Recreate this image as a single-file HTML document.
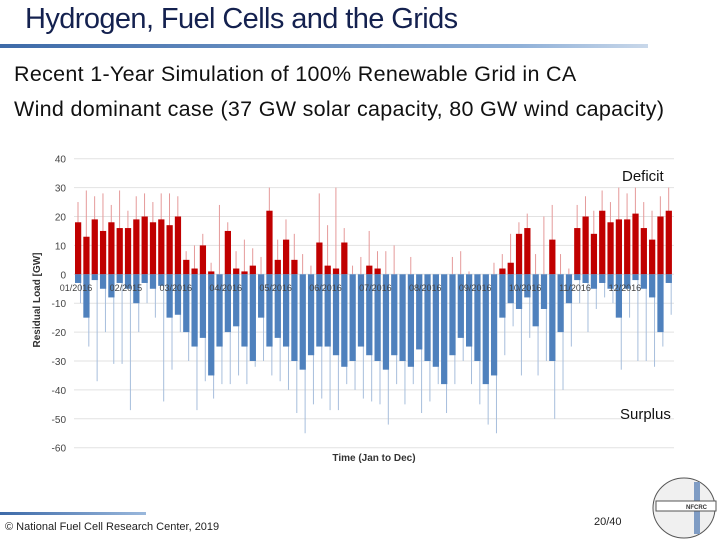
<!DOCTYPE html>
<html><head><meta charset="utf-8"><style>
body{margin:0;width:720px;height:540px;background:#fff;position:relative;overflow:hidden;font-family:"Liberation Sans",sans-serif}
.abs{position:absolute;white-space:nowrap}
</style></head><body>
<div class="abs" style="left:25px;top:3px;font-size:29px;color:#14214f;letter-spacing:-0.6px">Hydrogen, Fuel Cells and the Grids</div>
<div class="abs" style="left:0;top:44px;width:648px;height:4px;background:linear-gradient(90deg,#3d6aa8,#8fb0d8 80%,#c9d8ea)"></div>
<div class="abs" style="left:14px;top:62px;font-size:21.5px;color:#111;letter-spacing:0.3px">Recent 1-Year Simulation of 100% Renewable Grid in CA</div>
<div class="abs" style="left:14px;top:97px;font-size:21.5px;color:#111;letter-spacing:0.3px">Wind dominant case (37 GW solar capacity, 80 GW wind capacity)</div>
<svg class="abs" style="left:0;top:0" width="720" height="540">
<g id="grid"></g><g id="bars"></g><g id="labels"></g>
<text x="40" y="300" transform="rotate(-90 40 300)" text-anchor="middle" font-size="10" font-weight="bold" fill="#333">Residual Load [GW]</text>
<text x="374" y="461" text-anchor="middle" font-size="10" font-weight="bold" fill="#333">Time (Jan to Dec)</text>
<text x="622" y="181" font-size="15" fill="#111">Deficit</text>
<text x="620" y="419" font-size="15" fill="#111">Surplus</text>
</svg>
<div class="abs" style="left:0;top:512px;width:146px;height:3px;background:linear-gradient(90deg,#3d6aa8,#9ab8dc)"></div>
<div class="abs" style="left:5px;top:521px;font-size:11px;color:#222">© National Fuel Cell Research Center, 2019</div>
<div class="abs" style="left:594px;top:516px;font-size:11px;color:#222">20/40</div>
<svg class="abs" style="left:650px;top:476px" width="68" height="64">
<ellipse cx="34" cy="32" rx="31" ry="30" fill="#f0f0f0" stroke="#555"/>
<rect x="44" y="6" width="6" height="52" fill="#7f9cc4"/>
<rect x="6" y="25" width="60" height="10" fill="#fff" stroke="#555"/>
<text x="36" y="33" font-size="6" font-weight="bold" fill="#333">NFCRC</text>
</svg>
<script>
const yTicks=[40,30,20,10,0,-10,-20,-30,-40,-50,-60];
const months=["01/2016","02/2015","03/2016","04/2016","05/2016","06/2016","07/2016","08/2016","09/2016","10/2016","11/2016","12/2016"];
const deficit=[18,13,19,15,18,16,16,19,20,18,19,17,20,5,2,10,1,0,15,2,1,3,0,22,5,12,5,0,0,11,3,2,11,0,0,3,2,0,0,0,0,0,0,0,0,0,0,0,0,0,0,2,4,14,16,0,0,12,0,0,16,20,14,22,18,19,19,21,16,12,20,22];
const deficitPeak=[25,29,27,28,24,29,22,27,28,25,28,28,27,8,10,14,4,24,18,8,12,9,6,30,12,19,14,7,3,28,17,30,16,3,6,15,8,8,10,0,6,0,0,0,0,6,8,1,0,0,4,7,14,18,21,7,20,24,7,2,24,27,22,29,25,30,28,30,25,22,27,30];
const surplus=[-3,-15,-2,-5,-8,-3,-5,-10,-3,-5,-4,-15,-14,-20,-25,-22,-35,-25,-20,-18,-25,-30,-15,-25,-22,-25,-30,-33,-28,-25,-25,-28,-32,-30,-25,-28,-30,-33,-28,-30,-32,-26,-30,-32,-38,-28,-22,-25,-30,-38,-35,-15,-10,-12,-8,-18,-12,-30,-20,-10,-2,-3,-5,-3,-5,-15,-5,-2,-5,-8,-20,-3];
const surplusPeak=[-10,-25,-37,-20,-31,-31,-47,-20,-10,-15,-44,-33,-20,-30,-47,-37,-43,-38,-38,-35,-38,-32,-30,-35,-37,-40,-48,-55,-45,-43,-47,-47,-38,-40,-43,-44,-45,-52,-38,-45,-38,-48,-44,-38,-48,-38,-30,-38,-45,-52,-55,-28,-18,-35,-22,-35,-30,-50,-40,-25,-10,-20,-12,-8,-10,-33,-15,-30,-30,-32,-25,-14];
const X0=75,X1=674,Y0=274.3,PX=2.89;
const yS=v=>Y0-v*PX;
const xS=i=>X0+i*(X1-X0)/deficit.length;
const ns="http://www.w3.org/2000/svg";
function mk(t,a,p){const e=document.createElementNS(ns,t);for(const k in a)e.setAttribute(k,a[k]);p.appendChild(e);return e;}
const G=document.getElementById('grid'),B=document.getElementById('bars'),L=document.getElementById('labels');
yTicks.forEach(v=>{
 const l=mk('line',{x1:74,x2:674,y1:yS(v),y2:yS(v),stroke:'#e2e2e2','stroke-width':1},G);
 
 
 const t=mk('text',{x:66,y:yS(v)+4,'text-anchor':'end','font-size':10,fill:'#444'},L);
 t.textContent=v;
 
 
});
const bw=(X1-X0)/deficit.length;
for(let i=0;i<deficit.length;i++){
 const x=xS(i);
 const pk=mk('rect',{x:x+bw*0.3,y:yS(deficitPeak[i]),width:1,height:Math.max(0,deficitPeak[i]*PX),fill:'#e59a9a'},B);
 
 
 const d=mk('rect',{x:x,y:yS(deficit[i]),width:bw*0.75,height:Math.max(0,deficit[i]*PX),fill:'#c00000'},B);
 
 
 const sp=mk('rect',{x:x+bw*0.6,y:Y0,width:1,height:-surplusPeak[i]*PX,fill:'#a7bedc'},B);
 
 
 const s=mk('rect',{x:x,y:Y0,width:bw*0.75,height:-surplus[i]*PX,fill:'#4f81bd'},B);
 
 
}
months.forEach((m,i)=>{
 const t=mk('text',{x:76+i*49.9,y:291,'text-anchor':'middle','font-size':9,fill:'#444'},L);
 t.textContent=m;
 
 
});
</script>
</body></html>
